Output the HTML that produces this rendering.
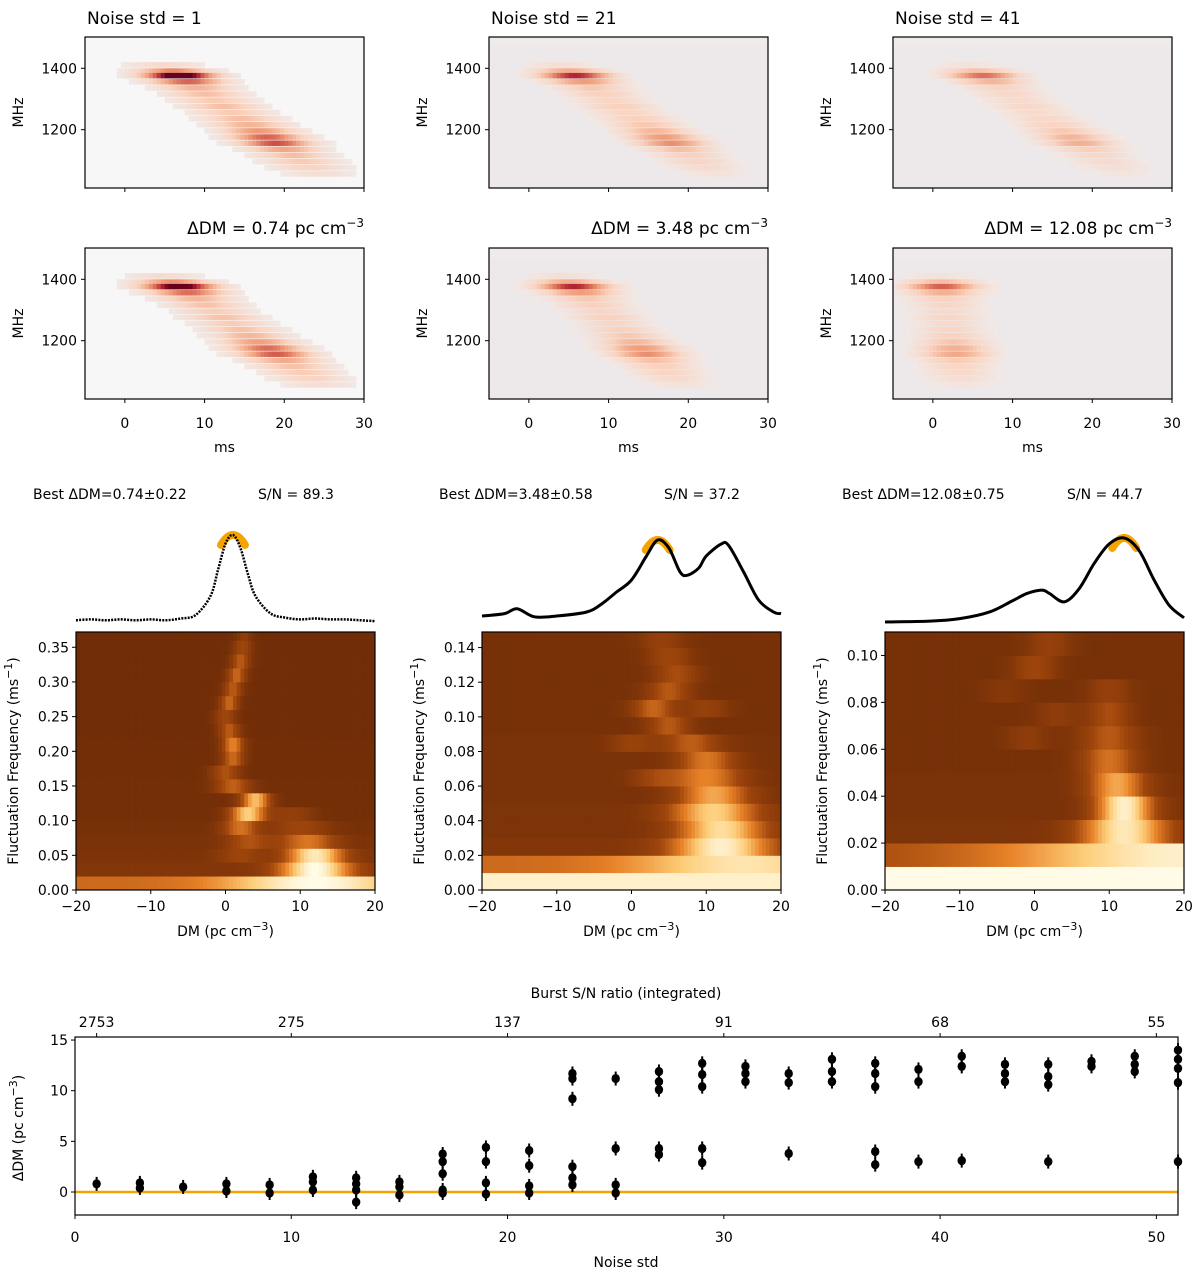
<!DOCTYPE html>
<html><head><meta charset="utf-8"><style>
body{margin:0;background:#fff}
svg{display:block;font-family:"DejaVu Sans","Liberation Sans",sans-serif}
</style></head><body>
<svg id="fig" width="1200" height="1280" viewBox="0 0 1200 1280" xmlns="http://www.w3.org/2000/svg"></svg>
<script>
// ---------- bottom scatter data ----------
const noiseStd = [1,3,3,5,7,7,9,9,11,11,11,13,13,13,13,15,15,15,17,17,17,17,17,19,19,19,19,21,21,21,21,23,23,23,23,23,23,25,25,25,25,27,27,27,27,27,29,29,29,29,29,31,31,31,33,33,33,35,35,35,37,37,37,37,37,39,39,39,41,41,41,43,43,43,45,45,45,45,47,47,49,49,49,51,51,51,51,51];
const dmValues = [0.8,0.9,0.4,0.5,0.8,0.1,0.7,-0.1,1.5,1.0,0.2,1.4,0.8,0.2,-1.0,1.0,0.5,-0.3,3.75,3.0,1.8,0.2,-0.1,4.4,3.0,0.9,-0.2,4.1,2.6,0.6,-0.1,11.7,11.2,9.2,2.5,1.4,0.7,11.2,4.3,0.7,-0.1,11.9,10.9,10.1,4.3,3.7,12.7,11.6,10.4,4.3,2.9,12.4,11.7,10.9,11.7,10.8,3.8,13.1,11.9,10.9,12.7,11.7,10.4,4.0,2.7,12.1,10.9,3.0,13.4,12.4,3.1,12.6,11.7,10.9,12.6,11.4,10.6,3.0,12.9,12.4,13.4,12.6,11.9,14.0,13.1,12.2,10.8,3.0];
const topTickNoise = [1,10,20,30,40,50];
const topTickLabels = ["2753","275","137","91","68","55"];
const bottomTicks = [0,10,20,30,40,50];
const leftTicks = [0,5,10,15];

// ---------- fluctuation-frequency maps ----------
const ff1Bin = 0.02;
const ff1Base = [.5,.15,.12,.1,.08,.06,.06,.06,.05,.05,.05,.04,.04,.04,.04,.04,.04,.04,.04];
const ff1C1 = [0,2,2,3,2,3,4,1,0,1,1,0.5,0,0.5,1,1.5,2,2.3,2.5];
const ff1A1 = [0,0,.2,.3,.45,.75,.7,.4,.35,.45,.55,.4,.3,.45,.4,.45,.4,.3,.2];
const ff1W1 = [1,1,3,3,2.5,2.5,2,2.5,2,1.5,1.5,1.5,1.5,1.3,1.3,1.3,1.3,1.3,1];
const ff1C2 = [12,12,12,11,10,9,0,0,0,0,0,0,0,0,0,0,0,0,0];
const ff1A2 = [.5,.85,.8,.45,.25,.2,0,0,0,0,0,0,0,0,0,0,0,0,0];
const ff1W2 = [12,5,4,4,4,3,1,1,1,1,1,1,1,1,1,1,1,1,1];

const ff2Bin = 0.01;
const ff2Base = [.95,.5,.15,.12,.12,.1,.1,.1,.1,.08,.08,.08,.08,.08,.08];
const ff2C1 = [0,15,12,12,11,11,10,10,8,5,3,5,6,5,4];
const ff2A1 = [0,.4,.8,.75,.7,.6,.5,.45,.35,.35,.4,.35,.3,.25,.2];
const ff2W1 = [1,15,7,6,6,5,5,4,4,3,3,3,3,3,3];
const ff2C2 = [0,0,0,0,0,0,3,0,0,0,10,0,0,0,0];
const ff2A2 = [0,0,0,0,0,0,.2,0,.2,0,.2,0,0,0,0];
const ff2W2 = [1,1,1,1,1,1,3,1,3,1,3,1,1,1,1];

const ff3Bin = 0.01;
const ff3Base = [1,.35,.12,.1,.1,.08,.08,.08,.08,.08,.08];
const ff3C1 = [0,20,12,12,11,10,10,10,10,0,2];
const ff3A1 = [0,.6,.8,.85,.6,.45,.35,.3,.2,.25,.2];
const ff3W1 = [1,25,6,4,4,4,4,3,3,3,3];
const ff3C2 = [0,0,0,0,0,0,-1,3,-4,0,0];
const ff3A2 = [0,0,0,0,0,0,.15,.15,.1,0,0];
const ff3W2 = [1,1,1,1,1,1,3,3,3,1,1];

// ---------- DM profiles ----------
const prof1DM = [-20,-18,-16,-14,-12,-10,-8,-6,-4,-2,-1,0,1,2,3,4,6,8,10,12,14,16,18,20];
const prof1Val = [.02,.03,.02,.03,.02,.03,.02,.04,.08,.3,.6,.9,1.0,.85,.55,.3,.1,.05,.03,.04,.03,.03,.02,.01];
const prof2DM = [-20,-17,-15.3,-13,-10,-6,-4,-2,0,2,3.5,5,6.5,7.5,9,10,12,13,15,17,19,20];
const prof2Val = [.05,.08,.14,.04,.05,.1,.2,.35,.5,.8,1.0,.9,.6,.56,.65,.8,.95,.93,.6,.25,.1,.08];
const prof3DM = [-20,-14,-10,-6,-3,-1,1,2,4,6,8,10,12,14,16,18,20];
const prof3Val = [0,.01,.04,.12,.25,.34,.38,.34,.24,.4,.7,.93,1.0,.85,.5,.2,.05];

// ---------- dynamic spectra sub-bands ----------
const bandFreq = [1410,1390,1375,1355,1335,1315,1295,1275,1255,1235,1215,1195,1175,1155,1135,1115,1095,1075,1055];
const bandAmp  = [.15,.5,1.0,.6,.35,.3,.25,.3,.25,.3,.35,.45,.6,.65,.4,.3,.25,.2,.12];
const specT0    = [6,5,5.5,6,5,1];
const specSlope = [.055,.055,.055,.055,.042,.008];
const specGain  = [1.15,.85,.65,1.1,.85,.7];

const NS="http://www.w3.org/2000/svg";
const svg=document.getElementById('fig');
function el(tag,attrs,parent){const e=document.createElementNS(NS,tag);for(const k in attrs)e.setAttribute(k,attrs[k]);(parent||svg).appendChild(e);return e;}
function txt(x,y,s,opt,parent){const t=el('text',Object.assign({x:x,y:y,'font-size':14,fill:'#000'},opt||{}),parent);t.innerHTML=s;return t;}
function lerpHex(stops,v){v=Math.max(0,Math.min(1,v));for(let i=1;i<stops.length;i++){if(v<=stops[i][0]){const a=stops[i-1],b=stops[i];const f=(v-a[0])/(b[0]-a[0]);const c=[0,1,2].map(j=>Math.round(a[1][j]+(b[1][j]-a[1][j])*f));return `rgb(${c[0]},${c[1]},${c[2]})`;}}const l=stops[stops.length-1][1];return `rgb(${l[0]},${l[1]},${l[2]})`;}
const heatStops=[[0,[107,42,6]],[0.35,[160,70,12]],[0.6,[232,130,40]],[0.8,[253,205,120]],[1,[255,251,230]]];
const redStops=[[0,[240,236,236]],[0.25,[250,210,190]],[0.5,[240,160,125]],[0.72,[210,90,75]],[0.88,[170,25,45]],[1,[103,0,31]]];

// ---------- spectra panels ----------
const colX=[85,489,893], PW=279;
const rowY=[37,248], PH=151;
function specPanel(r,c,idx){
  const x0=colX[c], y0=rowY[r];
  const g=el('g',{});
  
  
  const tx=t=>x0+(t+5)*PW/35, fy=f=>y0+(1502-f)*PH/492;
  const bg = c===0? '#f7f7f7':'#efebeb';
  el('rect',{x:x0,y:y0,width:PW,height:PH,fill:bg},g);
  if(c>0) el('rect',{x:x0,y:fy(1470),width:PW,height:fy(1010)-fy(1470),fill:'#ede8e9'},g);
  bandFreq.forEach((f,b)=>{
    const tc=specT0[idx]+(1390-f)*specSlope[idx];
    for(let t=-5;t<30;t+=0.5){
      const v=bandAmp[b]*specGain[idx]*Math.exp(-Math.pow((t+0.25-tc)/4.3,2));
      if(v<0.04)continue;
      el('rect',{x:tx(t),y:fy(f+10),width:PW/70+0.3,height:fy(f-8)-fy(f+10),fill:lerpHex(redStops,v)},g);
    }
  });
  el('rect',{x:x0,y:y0,width:PW,height:PH,fill:'none',stroke:'#000','stroke-width':1.2},g);
  [1200,1400].forEach(f=>{el('line',{x1:x0-4,x2:x0,y1:fy(f),y2:fy(f),stroke:'#000'},g);txt(x0-8,fy(f)+5,String(f),{'text-anchor':'end'},g);});
  [0,10,20,30].forEach(t=>{el('line',{x1:tx(t),x2:tx(t),y1:y0+PH,y2:y0+PH+4,stroke:'#000'},g);if(r===1)txt(tx(t),y0+PH+29,String(t),{'text-anchor':'middle'},g);});
  txt(x0-62,y0+PH/2,'MHz',{transform:`rotate(-90 ${x0-62} ${y0+PH/2})`,'text-anchor':'middle'},g);
  if(r===1) txt(x0+PW/2,y0+PH+53,'ms',{'text-anchor':'middle'},g);
}
let k=0;for(let r=0;r<2;r++)for(let c=0;c<3;c++)specPanel(r,c,k++);
const noiseT=['Noise std = 1','Noise std = 21','Noise std = 41'];
const ddmT=['ΔDM = 0.74 pc cm<tspan dy="-7" font-size="12">−3</tspan>','ΔDM = 3.48 pc cm<tspan dy="-7" font-size="12">−3</tspan>','ΔDM = 12.08 pc cm<tspan dy="-7" font-size="12">−3</tspan>'];
for(let c=0;c<3;c++){
  const t1=txt(colX[c]+2,24,noiseT[c],{'font-size':17});
  const t2=txt(colX[c]+PW,234,ddmT[c],{'font-size':17,'text-anchor':'end'});
}

// ---------- fluctuation frequency maps + profiles ----------
const hx=[76,482,885], HW=299, hy0=632, hy1=890;
const ffTop=[0.372,0.149,0.11];
const ffTicks=[[0,.05,.1,.15,.2,.25,.3,.35],[0,.02,.04,.06,.08,.1,.12,.14],[0,.02,.04,.06,.08,.1]];
const sets=[[ff1Bin,ff1Base,ff1C1,ff1A1,ff1W1,ff1C2,ff1A2,ff1W2],[ff2Bin,ff2Base,ff2C1,ff2A1,ff2W1,ff2C2,ff2A2,ff2W2],[ff3Bin,ff3Base,ff3C1,ff3A1,ff3W1,ff3C2,ff3A2,ff3W2]];
const profs=[[prof1DM,prof1Val,622,87,1],[prof2DM,prof2Val,620,80,3.5],[prof3DM,prof3Val,622,84,12]];
const bestT=[['Best ΔDM=0.74±0.22','S/N = 89.3'],['Best ΔDM=3.48±0.58','S/N = 37.2'],['Best ΔDM=12.08±0.75','S/N = 44.7']];
for(let c=0;c<3;c++){
  const g=el('g',{});
  
  
  const X=d=>hx[c]+(d+20)*HW/40, Y=f=>hy1-f*(hy1-hy0)/ffTop[c];
  const [bin,base,c1,a1,w1,c2,a2,w2]=sets[c];
  const clip=el('clipPath',{id:'hc'+c},g);
  el('rect',{x:hx[c],y:hy0,width:HW,height:hy1-hy0},clip);
  const cells=el('g',{'clip-path':`url(#hc${c})`},g);
  base.forEach((b,i)=>{
    for(let d=-20;d<20;d+=0.5){
      const dm=d+0.25;
      const v=b+a1[i]*Math.exp(-Math.pow((dm-c1[i])/w1[i],2))+a2[i]*Math.exp(-Math.pow((dm-c2[i])/w2[i],2));
      el('rect',{x:X(d),y:Y((i+1)*bin),width:HW/80+0.4,height:Y(i*bin)-Y((i+1)*bin)+0.4,fill:lerpHex(heatStops,v)},cells);
    }
  });
  el('rect',{x:hx[c],y:hy0,width:HW,height:hy1-hy0,fill:'none',stroke:'#000','stroke-width':1.2},g);
  [-20,-10,0,10,20].forEach(d=>{el('line',{x1:X(d),x2:X(d),y1:hy1,y2:hy1+4,stroke:'#000'},g);txt(X(d),hy1+21,d<0?'−'+(-d):String(d),{'text-anchor':'middle'},g);});
  ffTicks[c].forEach(f=>{el('line',{x1:hx[c]-4,x2:hx[c],y1:Y(f),y2:Y(f),stroke:'#000'},g);txt(hx[c]-7,Y(f)+5,f.toFixed(2),{'text-anchor':'end'},g);});
  txt(X(0),hy1+46,'DM (pc cm<tspan dy="-6" font-size="11">−3</tspan><tspan dy="6">)</tspan>',{'text-anchor':'middle'},g);
  const ly=(hy0+hy1)/2, lx=hx[c]-58;
  txt(lx,ly,'Fluctuation Frequency (ms<tspan dy="-6" font-size="11">−1</tspan><tspan dy="6">)</tspan>',{'text-anchor':'middle',transform:`rotate(-90 ${lx} ${ly})`},g);
  const [pd,pv,py0,ps,pk]=profs[c];
  const pts=pd.map((d,i)=>[X(d),py0-pv[i]*ps]);
  let dstr='M'+pts[0][0]+','+pts[0][1];
  for(let i=0;i<pts.length-1;i++){const p0=pts[Math.max(0,i-1)],p1=pts[i],p2=pts[i+1],p3=pts[Math.min(pts.length-1,i+2)];
    dstr+=` C${p1[0]+(p2[0]-p0[0])/6},${p1[1]+(p2[1]-p0[1])/6} ${p2[0]-(p3[0]-p1[0])/6},${p2[1]-(p3[1]-p1[1])/6} ${p2[0]},${p2[1]}`;}
  const pk1=X(pk-1.6), pk2=X(pk+1.6), pyk=py0-ps;
  const arc=el('path',{d:`M${pk1},${pyk+10} Q${X(pk)},${pyk-10} ${pk2},${pyk+10}`,fill:'none',stroke:'#f5a300','stroke-width':8,'stroke-linecap':'round'},g);
  
  const pl=el('path',{d:dstr,fill:'none',stroke:'#000','stroke-width':c===0?2.5:3,'stroke-dasharray':c===0?'2 1.2':'none'},g);
  
  const b1=txt(hx[c]-43,499,bestT[c][0],{},g);
  const b2=txt(hx[c]+182,499,bestT[c][1],{},g);
}

// ---------- bottom scatter ----------
const bx0=75,bx1=1178,by0=1037,by1=1215;
const BX=n=>bx0+n*(bx1-bx0)/51, BY=d=>1192-d*10.13;
const gb=el('g',{});


const zl=el('line',{x1:bx0,x2:bx1,y1:BY(0),y2:BY(0),stroke:'#f5a300','stroke-width':2.5},gb);

noiseStd.forEach((n,i)=>{
  const x=BX(n),y=BY(dmValues[i]);
  const eb=el('line',{x1:x,x2:x,y1:y-7,y2:y+7,stroke:'#000','stroke-width':2},gb);
  
  const p=el('ellipse',{cx:x,cy:y,rx:4.2,ry:4.6,fill:'#000'},gb);
  
});
el('rect',{x:bx0,y:by0,width:bx1-bx0,height:by1-by0,fill:'none',stroke:'#000','stroke-width':1.2},gb);
bottomTicks.forEach(n=>{el('line',{x1:BX(n),x2:BX(n),y1:by1,y2:by1+4,stroke:'#000'},gb);txt(BX(n),by1+27,String(n),{'text-anchor':'middle'},gb);});
leftTicks.forEach(d=>{el('line',{x1:bx0-4,x2:bx0,y1:BY(d),y2:BY(d),stroke:'#000'},gb);txt(bx0-7,BY(d)+5,String(d),{'text-anchor':'end'},gb);});
topTickNoise.forEach((n,i)=>{el('line',{x1:BX(n),x2:BX(n),y1:by0-4,y2:by0,stroke:'#000'},gb);txt(BX(n),by0-10,topTickLabels[i],{'text-anchor':'middle'},gb);});
txt(626,998,'Burst S/N ratio (integrated)',{'text-anchor':'middle'},gb);
txt(626,1267,'Noise std',{'text-anchor':'middle'},gb);
txt(23,1128,'ΔDM (pc cm<tspan dy="-6" font-size="11">−3</tspan><tspan dy="6">)</tspan>',{'text-anchor':'middle',transform:'rotate(-90 23 1128)'},gb);
</script>
</body></html>
